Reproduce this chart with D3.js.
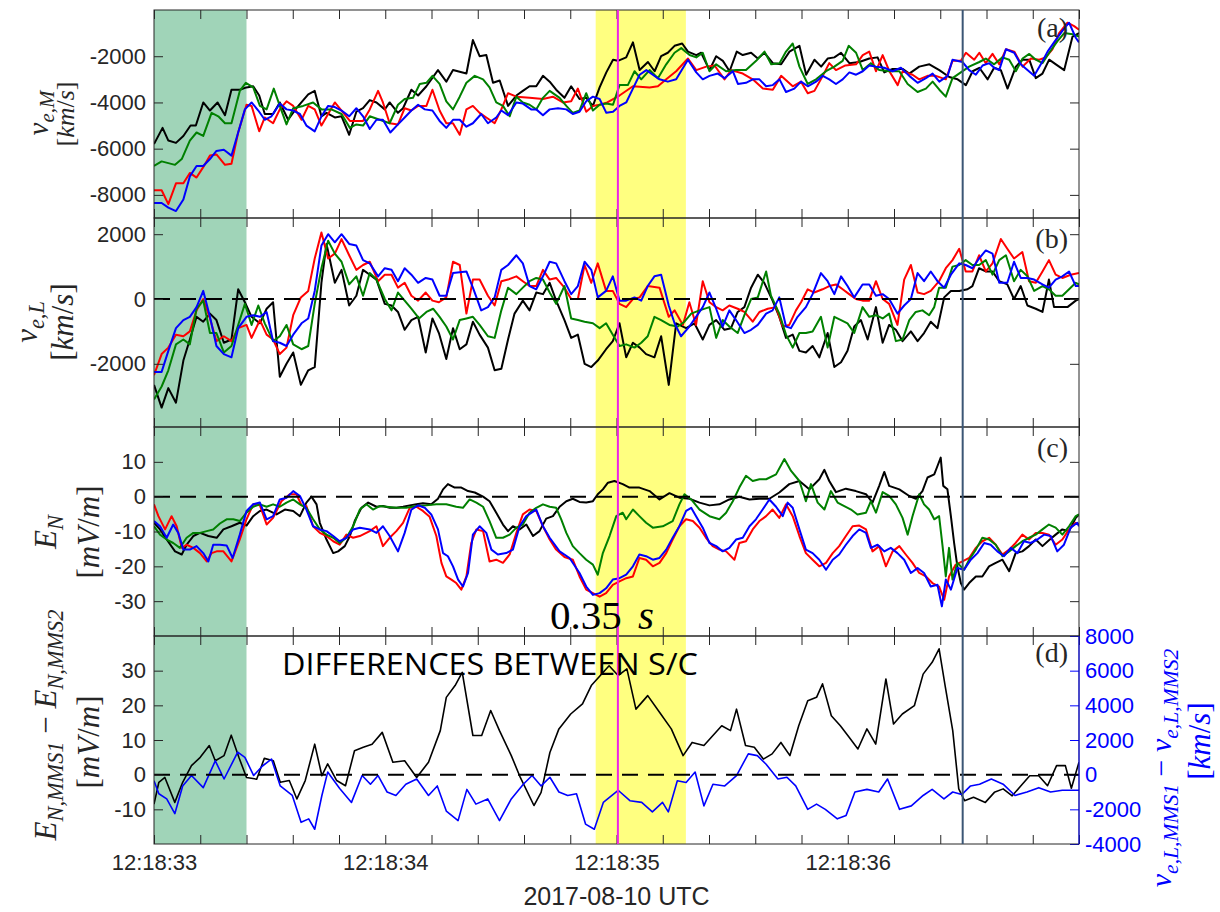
<!DOCTYPE html>
<html>
<head>
<meta charset="utf-8">
<script src="https://cdn.jsdelivr.net/npm/d3@7"></script>
<style>
body { margin: 0; background: #fff; }
svg { display: block; }
</style>
</head>
<body>
<svg id="chart" width="1220" height="912"></svg>
<script>
// time is in seconds after 12:18:33 UTC

var xTickLabels = ["12:18:33", "12:18:34", "12:18:35", "12:18:36"];
var greenSpan = [0, 0.4];
var yellowSpan = [1.91, 2.30];
var magentaTime = 2.006;
var markerTime = 3.497;

// panel (a) v_e,M [km/s]
var vM_mms1 = [[0,-5800],[0.037,-5100],[0.062,-5650],[0.095,-5750],[0.127,-5450],[0.158,-5000],[0.181,-5000],[0.213,-4000],[0.242,-4350],[0.275,-4000],[0.307,-4550],[0.335,-3450],[0.371,-3450],[0.40,-3350],[0.429,-3300],[0.455,-3700],[0.479,-4500],[0.515,-4500],[0.544,-4000],[0.58,-4750],[0.616,-4250],[0.667,-3650],[0.695,-3500],[0.724,-4600],[0.746,-4450],[0.782,-4650],[0.811,-4600],[0.844,-5400],[0.875,-4400],[0.904,-4250],[0.933,-3900],[0.962,-4000],[0.998,-4300],[1.019,-4000],[1.055,-4450],[1.077,-4250],[1.113,-3450],[1.142,-3700],[1.178,-3300],[1.228,-2600],[1.264,-3100],[1.293,-2600],[1.351,-2750],[1.379,-1300],[1.408,-2000],[1.437,-1950],[1.466,-3150],[1.495,-3050],[1.531,-4150],[1.567,-3700],[1.595,-3500],[1.624,-3300],[1.653,-3300],[1.682,-2850],[1.711,-3100],[1.739,-3450],[1.775,-3800],[1.804,-3300],[1.84,-3850],[1.869,-3800],[1.898,-4150],[1.927,-3350],[1.956,-2700],[1.985,-2150],[2.006,-2200],[2.042,-2050],[2.071,-1400],[2.10,-2600],[2.136,-2250],[2.165,-2650],[2.193,-2000],[2.222,-1850],[2.251,-1550],[2.284,-1450],[2.309,-1800],[2.345,-1950],[2.366,-1850],[2.402,-2600],[2.431,-2000],[2.46,-2200],[2.489,-2650],[2.52,-1800],[2.546,-1950],[2.582,-1850],[2.611,-2100],[2.64,-1850],[2.676,-2300],[2.712,-2350],[2.748,-1800],[2.791,-1550],[2.82,-2800],[2.856,-2150],[2.885,-2450],[2.913,-2100],[2.942,-2050],[2.971,-1850],[3.007,-2300],[3.05,-2250],[3.093,-2100],[3.129,-2050],[3.158,-2700],[3.194,-2550],[3.237,-2550],[3.266,-2750],[3.309,-2450],[3.353,-2350],[3.396,-2600],[3.439,-2900],[3.475,-3000],[3.511,-3250],[3.54,-2650],[3.569,-2500],[3.605,-3000],[3.633,-2500],[3.662,-2600],[3.691,-3400],[3.727,-2450],[3.756,-2150],[3.785,-2150],[3.813,-2950],[3.842,-2750],[3.871,-2150],[3.90,-2350],[3.936,-2600],[3.972,-1150],[4.0,-1000]];
var vM_mms2 = [[0,-7800],[0.033,-7800],[0.062,-8400],[0.095,-7500],[0.127,-7500],[0.155,-7050],[0.184,-7250],[0.213,-6800],[0.242,-6300],[0.27,-6250],[0.307,-6700],[0.335,-6650],[0.364,-5300],[0.40,-4100],[0.422,-4150],[0.455,-5250],[0.479,-4650],[0.515,-4900],[0.544,-4300],[0.573,-3950],[0.602,-4150],[0.638,-4750],[0.667,-4150],[0.695,-4300],[0.724,-5000],[0.753,-4500],[0.782,-4000],[0.811,-4350],[0.847,-4800],[0.904,-4800],[0.933,-4300],[0.969,-3500],[0.99,-4000],[1.019,-4900],[1.055,-4950],[1.084,-4250],[1.113,-4350],[1.142,-4150],[1.178,-4150],[1.204,-3450],[1.235,-4350],[1.264,-4900],[1.293,-4900],[1.322,-5400],[1.351,-4300],[1.379,-4150],[1.408,-4450],[1.437,-4650],[1.473,-4900],[1.502,-4300],[1.531,-3600],[1.567,-3750],[1.624,-3800],[1.682,-3850],[1.725,-3750],[1.768,-4000],[1.804,-3950],[1.833,-3400],[1.869,-4400],[1.898,-4150],[1.927,-4100],[1.96,-4000],[2.013,-3700],[2.071,-3300],[2.143,-3350],[2.179,-3300],[2.215,-3000],[2.258,-2650],[2.309,-2100],[2.345,-2600],[2.388,-2450],[2.424,-2400],[2.467,-3000],[2.496,-2600],[2.546,-2750],[2.589,-3000],[2.633,-3400],[2.676,-3450],[2.712,-2850],[2.762,-3300],[2.798,-3100],[2.827,-3600],[2.856,-3500],[2.892,-2850],[2.92,-2300],[2.949,-2600],[2.99,-2400],[3.036,-2350],[3.065,-1950],[3.093,-1800],[3.122,-2650],[3.151,-1950],[3.18,-2650],[3.216,-3250],[3.237,-2650],[3.28,-2800],[3.309,-3000],[3.345,-2850],[3.381,-2850],[3.424,-3000],[3.453,-2200],[3.489,-2200],[3.511,-1850],[3.547,-2150],[3.569,-1850],[3.597,-2300],[3.626,-1900],[3.655,-2350],[3.684,-1700],[3.72,-1800],[3.756,-2450],[3.792,-2100],[3.828,-2150],[3.856,-2050],[3.885,-1700],[3.914,-1000],[3.95,-550],[3.979,-700],[4.0,-850]];
var vM_mms3 = [[0,-6750],[0.033,-6550],[0.091,-6700],[0.12,-6450],[0.155,-5650],[0.184,-5300],[0.213,-5450],[0.249,-4450],[0.278,-4600],[0.307,-4900],[0.335,-4900],[0.371,-3500],[0.397,-3150],[0.429,-3350],[0.458,-4150],[0.487,-4300],[0.518,-3400],[0.544,-4150],[0.573,-4950],[0.602,-4250],[0.645,-4150],[0.688,-4000],[0.724,-4300],[0.767,-4300],[0.811,-4500],[0.847,-5100],[0.875,-4950],[0.904,-5000],[0.933,-4600],[0.976,-4750],[1.019,-4900],[1.055,-4100],[1.084,-3850],[1.12,-3800],[1.149,-3200],[1.178,-3150],[1.204,-2850],[1.235,-3200],[1.264,-3950],[1.293,-4300],[1.322,-3750],[1.351,-3150],[1.387,-2850],[1.423,-3000],[1.451,-3350],[1.48,-4000],[1.509,-4150],[1.538,-4600],[1.567,-3750],[1.595,-4000],[1.624,-4100],[1.653,-4300],[1.682,-3800],[1.711,-3500],[1.754,-3800],[1.783,-4150],[1.811,-4450],[1.84,-4350],[1.869,-3600],[1.898,-4350],[1.927,-4100],[1.956,-4050],[1.985,-4100],[2.013,-3250],[2.049,-3250],[2.078,-2650],[2.107,-3000],[2.143,-2600],[2.179,-2950],[2.215,-2350],[2.251,-1850],[2.28,-1650],[2.316,-1950],[2.345,-2050],[2.373,-1850],[2.402,-2650],[2.431,-2350],[2.474,-2650],[2.517,-2600],[2.56,-2600],[2.604,-2200],[2.64,-1800],[2.669,-2350],[2.705,-2300],[2.733,-1800],[2.762,-1450],[2.791,-2450],[2.827,-3200],[2.863,-3000],[2.906,-2650],[2.942,-2450],[2.978,-2200],[3.004,-1550],[3.036,-1850],[3.065,-2600],[3.1,-2300],[3.136,-2600],[3.18,-2650],[3.223,-2650],[3.259,-3200],[3.302,-3550],[3.338,-3400],[3.367,-3100],[3.396,-3450],[3.424,-3750],[3.453,-2950],[3.489,-2700],[3.525,-2450],[3.569,-2250],[3.597,-2100],[3.633,-2350],[3.669,-2050],[3.698,-2150],[3.727,-2650],[3.756,-2100],[3.785,-1900],[3.813,-2150],[3.842,-2300],[3.871,-1850],[3.907,-1350],[3.936,-1000],[3.972,-1050],[4.0,-1150]];
var vM_mms4 = [[0,-8350],[0.033,-8350],[0.062,-8550],[0.095,-8700],[0.127,-8200],[0.155,-7200],[0.184,-6750],[0.213,-6750],[0.242,-6450],[0.27,-6100],[0.302,-6050],[0.335,-6300],[0.364,-5300],[0.393,-4300],[0.422,-4000],[0.451,-4350],[0.479,-4750],[0.508,-4600],[0.544,-4050],[0.573,-4300],[0.602,-4350],[0.631,-4500],[0.659,-5000],[0.695,-5250],[0.724,-4600],[0.753,-4150],[0.782,-4200],[0.811,-4350],[0.844,-4600],[0.875,-4250],[0.904,-4600],[0.933,-5150],[0.962,-4750],[0.99,-4750],[1.022,-5300],[1.055,-4950],[1.084,-4650],[1.113,-4350],[1.142,-4100],[1.171,-4300],[1.204,-4350],[1.235,-4800],[1.264,-5100],[1.293,-4750],[1.322,-4750],[1.351,-5050],[1.379,-4900],[1.415,-4500],[1.444,-4900],[1.48,-4650],[1.502,-4350],[1.531,-4550],[1.567,-4000],[1.595,-4050],[1.631,-4300],[1.653,-4300],[1.682,-4550],[1.711,-4300],[1.747,-4250],[1.783,-4300],[1.811,-4500],[1.84,-4400],[1.869,-3950],[1.898,-3750],[1.927,-3850],[1.956,-4450],[1.985,-4400],[2.013,-4150],[2.042,-4000],[2.071,-3400],[2.10,-2800],[2.129,-2600],[2.157,-2800],[2.186,-3000],[2.222,-3100],[2.258,-3000],[2.309,-2150],[2.345,-2700],[2.373,-3000],[2.402,-2850],[2.438,-2750],[2.467,-2950],[2.503,-2650],[2.525,-3200],[2.56,-3150],[2.589,-3000],[2.618,-3000],[2.647,-3300],[2.676,-3250],[2.705,-3000],[2.733,-3550],[2.769,-3400],[2.798,-3100],[2.827,-3300],[2.863,-3100],[2.892,-2850],[2.92,-3000],[2.949,-3200],[2.978,-3000],[3.007,-2700],[3.036,-2800],[3.065,-2650],[3.093,-2400],[3.122,-2450],[3.158,-2500],[3.194,-2650],[3.23,-2500],[3.266,-2850],[3.302,-3150],[3.338,-2950],[3.367,-2750],[3.396,-3100],[3.432,-2850],[3.453,-2150],[3.496,-2250],[3.525,-2600],[3.554,-2800],[3.583,-2400],[3.612,-2300],[3.633,-2500],[3.655,-2600],[3.684,-1700],[3.72,-1850],[3.748,-2350],[3.777,-2600],[3.806,-2850],[3.835,-2350],[3.864,-1800],[3.892,-1400],[3.928,-900],[3.957,-550],[3.986,-1200],[4.0,-1400]];

// panel (b) v_e,L [km/s]
var vL_mms1 = [[0,-2650],[0.033,-3350],[0.062,-2750],[0.095,-3200],[0.127,-1900],[0.155,-1250],[0.184,-550],[0.213,-700],[0.242,-450],[0.27,-650],[0.302,-1350],[0.335,-1250],[0.364,300],[0.393,-100],[0.422,-550],[0.458,-750],[0.487,-300],[0.515,-100],[0.544,-2400],[0.573,-2000],[0.602,-1650],[0.635,-2650],[0.667,-2200],[0.695,-2100],[0.724,500],[0.746,1700],[0.782,500],[0.811,900],[0.844,-200],[0.875,100],[0.904,900],[0.933,750],[0.962,600],[0.998,-150],[1.027,-200],[1.055,-400],[1.084,-950],[1.113,-650],[1.142,-550],[1.175,-1650],[1.204,-600],[1.232,-1050],[1.264,-1850],[1.293,-900],[1.322,-1550],[1.351,-1400],[1.379,-700],[1.408,-1100],[1.444,-1500],[1.473,-2200],[1.502,-2150],[1.531,-1250],[1.559,-450],[1.595,-50],[1.624,-350],[1.653,200],[1.682,150],[1.711,500],[1.739,-50],[1.775,-650],[1.804,-1200],[1.833,-1100],[1.862,-2000],[1.891,-2100],[1.919,-1900],[1.955,-1550],[1.984,-1300],[2.013,-750],[2.042,-1800],[2.071,-1350],[2.1,-1500],[2.128,-1700],[2.164,-1800],[2.193,-1150],[2.226,-2650],[2.258,-750],[2.301,-900],[2.337,-750],[2.373,-1250],[2.402,-800],[2.431,-650],[2.467,-950],[2.495,-900],[2.524,-400],[2.553,-250],[2.582,350],[2.611,750],[2.639,500],[2.675,-50],[2.704,-550],[2.733,-1200],[2.762,-1100],[2.791,-1600],[2.819,-1650],[2.848,-1450],[2.877,-1800],[2.913,-1050],[2.942,-2100],[2.971,-1950],[2.999,-1600],[3.028,-850],[3.057,-650],[3.086,-1250],[3.122,-250],[3.151,-1350],[3.179,-800],[3.208,-950],[3.237,-1300],[3.273,-1000],[3.302,-1300],[3.33,-1050],[3.359,-700],[3.388,-900],[3.417,50],[3.446,250],[3.482,250],[3.518,300],[3.539,400],[3.568,950],[3.597,850],[3.626,850],[3.655,550],[3.69,450],[3.719,0],[3.748,400],[3.777,-200],[3.813,-300],[3.842,-400],[3.87,600],[3.892,-250],[3.921,-250],[3.95,-250],[3.986,-50],[4.0,0]];
var vL_mms2 = [[0,-2350],[0.033,-1700],[0.062,-1500],[0.095,-1100],[0.127,-1150],[0.155,-1000],[0.184,-350],[0.213,0],[0.242,-600],[0.27,-1300],[0.302,-1150],[0.335,-1300],[0.364,-900],[0.40,-800],[0.422,-1200],[0.458,-650],[0.487,-1100],[0.515,-1250],[0.544,-1700],[0.573,-1500],[0.602,-500],[0.635,50],[0.667,250],[0.695,1250],[0.724,2050],[0.753,1250],[0.782,1400],[0.811,1850],[0.844,1350],[0.875,900],[0.904,1050],[0.933,1150],[0.969,550],[0.998,750],[1.027,750],[1.055,350],[1.084,500],[1.113,100],[1.142,-50],[1.175,200],[1.204,-50],[1.232,-100],[1.264,50],[1.293,1150],[1.322,1050],[1.351,-450],[1.379,600],[1.408,600],[1.444,100],[1.473,-200],[1.502,550],[1.531,600],[1.567,700],[1.595,550],[1.624,400],[1.653,400],[1.682,900],[1.711,600],[1.739,650],[1.775,350],[1.804,0],[1.833,0],[1.862,1050],[1.891,500],[1.919,1100],[1.955,250],[1.984,250],[2.013,-150],[2.042,-250],[2.071,0],[2.1,50],[2.135,400],[2.186,350],[2.226,-550],[2.251,-350],[2.287,-800],[2.315,-100],[2.344,-800],[2.373,550],[2.402,-100],[2.431,-250],[2.459,-350],[2.488,-200],[2.524,-300],[2.553,-400],[2.589,-700],[2.618,-400],[2.654,-300],[2.69,-250],[2.719,-850],[2.747,-800],[2.776,-350],[2.798,-100],[2.827,300],[2.855,200],[2.891,300],[2.92,400],[2.949,450],[2.978,300],[3.006,150],[3.035,0],[3.064,-50],[3.093,-50],[3.122,550],[3.151,0],[3.179,-150],[3.215,-800],[3.244,600],[3.273,1050],[3.302,200],[3.33,150],[3.359,250],[3.395,550],[3.424,950],[3.453,1200],[3.482,1550],[3.51,850],[3.539,850],[3.568,1350],[3.597,850],[3.626,1100],[3.662,1850],[3.69,1550],[3.719,1250],[3.755,1450],[3.784,550],[3.813,500],[3.842,850],[3.87,1200],[3.899,750],[3.928,650],[3.964,750],[4.0,800]];
var vL_mms3 = [[0,-3100],[0.033,-2700],[0.062,-2200],[0.095,-1400],[0.127,-1250],[0.155,-1400],[0.184,-300],[0.213,-50],[0.242,-1050],[0.27,-1050],[0.302,-1650],[0.335,-1450],[0.364,-800],[0.393,-150],[0.422,-800],[0.451,-200],[0.479,-750],[0.515,-1300],[0.544,-1150],[0.573,-800],[0.602,-1400],[0.638,-1550],[0.667,-1450],[0.695,-150],[0.724,950],[0.753,1800],[0.782,1400],[0.811,1150],[0.844,450],[0.875,700],[0.904,100],[0.933,800],[0.962,600],[0.998,0],[1.027,-350],[1.055,200],[1.084,-50],[1.113,-300],[1.146,-600],[1.178,-400],[1.207,-300],[1.235,-550],[1.264,-850],[1.293,-1250],[1.322,-650],[1.351,-600],[1.379,-550],[1.408,-800],[1.444,-1150],[1.473,-1200],[1.502,-350],[1.531,350],[1.567,150],[1.595,350],[1.624,550],[1.653,650],[1.682,600],[1.711,200],[1.739,-150],[1.775,400],[1.804,-600],[1.833,-650],[1.862,-700],[1.898,-750],[1.927,-900],[1.955,-750],[1.984,-1100],[2.013,-1450],[2.042,-1400],[2.078,-1500],[2.107,-1350],[2.135,-1150],[2.164,-550],[2.193,-650],[2.229,-800],[2.265,-850],[2.294,-700],[2.323,-450],[2.359,-350],[2.402,-250],[2.431,-1200],[2.459,-650],[2.488,-850],[2.524,-1050],[2.553,-500],[2.582,0],[2.611,50],[2.647,850],[2.668,100],[2.704,-450],[2.733,-1100],[2.762,-1500],[2.791,-1050],[2.819,-1050],[2.848,-1000],[2.884,-550],[2.913,-1500],[2.942,-550],[2.971,-650],[2.999,-750],[3.028,-1050],[3.064,-250],[3.093,-550],[3.122,-500],[3.151,-600],[3.179,-450],[3.208,-1300],[3.237,-1250],[3.266,-650],[3.294,-400],[3.323,-350],[3.352,-500],[3.374,-250],[3.395,350],[3.424,350],[3.453,1000],[3.482,1050],[3.51,1200],[3.539,1050],[3.568,1050],[3.597,1200],[3.626,750],[3.655,1200],[3.684,1350],[3.719,550],[3.748,900],[3.777,700],[3.806,250],[3.842,400],[3.87,300],[3.899,100],[3.928,100],[3.957,300],[3.986,500],[4.0,450]];
var vL_mms4 = [[0,-2250],[0.033,-2250],[0.062,-1600],[0.095,-900],[0.127,-650],[0.155,-550],[0.184,-250],[0.213,250],[0.242,-550],[0.27,-1450],[0.302,-1700],[0.335,-1800],[0.364,-900],[0.40,-550],[0.429,-500],[0.458,-550],[0.487,-400],[0.515,-1300],[0.544,-1350],[0.573,-1450],[0.602,-1100],[0.638,-750],[0.667,-600],[0.695,250],[0.724,1650],[0.753,2000],[0.782,1750],[0.811,2000],[0.844,1700],[0.875,1650],[0.904,1200],[0.933,1100],[0.969,700],[0.998,950],[1.027,900],[1.055,550],[1.084,950],[1.113,750],[1.142,500],[1.175,650],[1.204,600],[1.235,100],[1.264,100],[1.293,800],[1.351,850],[1.379,350],[1.415,-350],[1.444,-250],[1.473,50],[1.502,900],[1.531,1050],[1.567,1350],[1.595,1100],[1.624,400],[1.653,300],[1.682,700],[1.711,1150],[1.739,1100],[1.775,550],[1.804,150],[1.833,400],[1.862,1150],[1.891,900],[1.919,50],[1.955,250],[1.984,700],[2.013,-50],[2.042,-50],[2.078,50],[2.107,-50],[2.135,400],[2.164,700],[2.193,750],[2.226,-200],[2.251,-750],[2.279,-1150],[2.315,-850],[2.344,-550],[2.373,-250],[2.402,200],[2.431,-300],[2.459,-850],[2.488,-350],[2.517,-650],[2.553,-1050],[2.582,-950],[2.611,-800],[2.647,-450],[2.675,-350],[2.704,50],[2.733,-850],[2.754,-900],[2.783,-550],[2.819,-250],[2.848,150],[2.884,800],[2.913,550],[2.942,150],[2.971,700],[2.999,400],[3.028,50],[3.064,450],[3.093,450],[3.122,100],[3.151,150],[3.179,0],[3.215,-450],[3.244,-200],[3.273,0],[3.302,800],[3.33,550],[3.359,850],[3.388,550],[3.417,350],[3.446,750],[3.482,1100],[3.51,1050],[3.539,950],[3.568,1250],[3.597,1500],[3.626,1400],[3.655,500],[3.69,500],[3.719,1150],[3.748,650],[3.777,650],[3.806,600],[3.842,450],[3.87,350],[3.899,600],[3.928,700],[3.957,850],[3.986,400],[4.0,400]];

// panel (c) E_N [mV/m]
var EN_mms1 = [[0,-7.5],[0.026,-9.4],[0.055,-12.3],[0.091,-15.7],[0.12,-16.6],[0.141,-13.8],[0.17,-11.3],[0.199,-10.4],[0.235,-11.3],[0.271,-11.8],[0.30,-9.4],[0.335,-8.5],[0.371,-7.5],[0.40,-8.3],[0.429,-5.6],[0.458,-4.1],[0.487,-3.7],[0.53,-5.1],[0.566,-3.7],[0.602,-4.1],[0.631,-5.6],[0.659,-1.7],[0.681,0],[0.703,-2.2],[0.717,-7.5],[0.746,-12.3],[0.775,-16.2],[0.796,-15.7],[0.825,-14.2],[0.847,-11.3],[0.868,-7.0],[0.897,-3.2],[0.926,-1.7],[0.962,-2.9],[0.99,-2.7],[1.019,-3.2],[1.048,-3.2],[1.077,-2.9],[1.106,-2.5],[1.135,-2.2],[1.163,-1.9],[1.199,-2.2],[1.228,-0.6],[1.25,2.1],[1.271,3.6],[1.3,2.6],[1.329,2.6],[1.358,1.6],[1.387,1.2],[1.423,0],[1.451,-1.3],[1.48,-4.6],[1.509,-8.0],[1.531,-9.9],[1.552,-8.5],[1.581,-9.4],[1.61,-8.0],[1.639,-11.3],[1.667,-9.9],[1.696,-6.3],[1.725,-5.6],[1.754,-2.9],[1.783,-1.3],[1.811,-0.6],[1.84,-1.5],[1.869,-1.7],[1.898,-1.3],[1.919,0.7],[1.941,2.1],[1.963,4.0],[1.991,4.5],[2.027,3.6],[2.056,2.6],[2.099,2.6],[2.143,1.6],[2.186,-0.8],[2.229,1.0],[2.272,-0.3],[2.315,-0.6],[2.359,-1.7],[2.402,-2.5],[2.445,-2.2],[2.488,-0.8],[2.531,0],[2.575,-0.8],[2.618,-0.6],[2.661,-0.6],[2.704,1.2],[2.747,3.6],[2.791,4.5],[2.834,2.1],[2.877,5.0],[2.899,7.7],[2.92,4.5],[2.949,1.3],[2.992,2.3],[3.035,1.6],[3.079,0.7],[3.107,-1.7],[3.136,3.1],[3.158,7.1],[3.179,3.1],[3.223,2.1],[3.266,0.2],[3.295,-0.6],[3.323,1.6],[3.345,5.5],[3.374,6.4],[3.388,8.8],[3.402,11.2],[3.413,3.1],[3.431,2.1],[3.446,-5.6],[3.46,-13.3],[3.474,-20],[3.489,-24.8],[3.503,-26.7],[3.525,-24.8],[3.554,-22.9],[3.582,-22.9],[3.611,-20],[3.64,-19],[3.669,-18.1],[3.698,-21.4],[3.726,-16.2],[3.755,-15.7],[3.784,-14.2],[3.813,-12.3],[3.842,-14.2],[3.87,-12.5],[3.899,-10.9],[3.928,-9.4],[3.957,-9.9],[3.986,-6.1],[4.0,-5.1]];
var EN_mms2 = [[0,-2.2],[0.019,-5.6],[0.048,-9.4],[0.076,-5.6],[0.098,-8.5],[0.12,-14.7],[0.141,-13.8],[0.17,-14.7],[0.199,-16.2],[0.228,-18.6],[0.249,-16.2],[0.271,-15.7],[0.30,-15.7],[0.335,-18.6],[0.371,-12.3],[0.40,-6.5],[0.429,-2.2],[0.458,-2.5],[0.487,-8.0],[0.515,-6.1],[0.551,-1.3],[0.587,0.7],[0.616,0.7],[0.638,-2.5],[0.659,-2.7],[0.688,-8.5],[0.717,-10.4],[0.746,-11.3],[0.775,-12.8],[0.803,-13.8],[0.832,-10.9],[0.861,-11.8],[0.89,-11.3],[0.933,-9.9],[0.962,-8.5],[0.99,-14.2],[1.019,-11.8],[1.048,-9.9],[1.077,-7.5],[1.106,-3.2],[1.135,-2.9],[1.163,-4.1],[1.192,-5.8],[1.221,-11.3],[1.243,-19],[1.264,-22.9],[1.286,-23.8],[1.307,-24.8],[1.329,-26.7],[1.351,-22.9],[1.372,-13.3],[1.394,-9.4],[1.423,-9.9],[1.451,-18.6],[1.48,-18.1],[1.509,-19],[1.538,-16.6],[1.567,-10.4],[1.595,-5.1],[1.624,-3.7],[1.653,-4.1],[1.682,-8.5],[1.711,-12.3],[1.739,-15.2],[1.775,-17.3],[1.811,-18.1],[1.84,-22.9],[1.869,-26.7],[1.898,-27.7],[1.927,-28.7],[1.955,-27.7],[1.984,-25.3],[2.013,-24.3],[2.042,-23.4],[2.071,-22.9],[2.099,-17.6],[2.128,-18.1],[2.157,-20],[2.186,-19],[2.215,-16.2],[2.243,-12.3],[2.272,-8.5],[2.301,-6.5],[2.33,-7.0],[2.359,-8.9],[2.387,-11.8],[2.416,-14.2],[2.445,-15.2],[2.474,-15.7],[2.51,-18.1],[2.531,-13.3],[2.56,-12.8],[2.589,-9.4],[2.618,-7.0],[2.647,-5.6],[2.675,-3.7],[2.704,-6.1],[2.733,-2.2],[2.762,-5.6],[2.791,-11.3],[2.819,-16.2],[2.848,-18.1],[2.877,-20],[2.906,-19],[2.935,-16.2],[2.963,-14.2],[2.992,-11.3],[3.021,-8.5],[3.05,-8.3],[3.079,-9.4],[3.107,-15.7],[3.136,-14.2],[3.165,-20],[3.194,-15.7],[3.223,-14.2],[3.251,-16.6],[3.28,-19],[3.309,-21.9],[3.338,-22.9],[3.366,-24.8],[3.395,-25.8],[3.417,-29.6],[3.438,-22.9],[3.467,-19.5],[3.496,-18.6],[3.525,-17.6],[3.554,-14.7],[3.582,-12.8],[3.611,-11.8],[3.64,-13.8],[3.669,-16.6],[3.698,-15.2],[3.726,-13.3],[3.755,-10.9],[3.784,-12.3],[3.813,-10.4],[3.842,-10.4],[3.87,-10.9],[3.899,-13.8],[3.928,-12.3],[3.957,-9.4],[3.986,-7.5],[4.0,-8.0]];
var EN_mms3 = [[0,-8.5],[0.026,-10.9],[0.055,-12.3],[0.083,-13.3],[0.112,-14.7],[0.141,-11.8],[0.17,-10.4],[0.199,-10.4],[0.228,-9.9],[0.256,-9.4],[0.285,-7.7],[0.314,-6.5],[0.343,-6.5],[0.371,-7.0],[0.40,-4.6],[0.429,-2.9],[0.458,-2.2],[0.487,-2.9],[0.515,-2.2],[0.544,-2.9],[0.573,-1.7],[0.602,-0.8],[0.631,-2.2],[0.659,-3.2],[0.688,-6.5],[0.717,-9.4],[0.746,-10.9],[0.775,-11.8],[0.803,-13.3],[0.832,-11.8],[0.861,-8.5],[0.89,-3.7],[0.919,-2.2],[0.947,-3.7],[0.976,-2.7],[1.005,-2.9],[1.048,-3.2],[1.091,-3.2],[1.135,-2.7],[1.178,-2.5],[1.221,-2.2],[1.264,-2.2],[1.307,-2.9],[1.336,-3.2],[1.365,-0.8],[1.394,-1.7],[1.423,-2.9],[1.451,-7.0],[1.48,-11.8],[1.509,-11.8],[1.538,-10.9],[1.567,-8.9],[1.595,-8.0],[1.624,-4.6],[1.653,-3.2],[1.682,-2.2],[1.711,-2.9],[1.739,-3.2],[1.761,-6.5],[1.783,-10.4],[1.811,-14.2],[1.84,-16.2],[1.869,-18.1],[1.898,-19.5],[1.919,-22.4],[1.941,-16.2],[1.97,-11.3],[1.999,-5.6],[2.027,-4.6],[2.042,-6.5],[2.071,-3.7],[2.099,-5.6],[2.128,-7.5],[2.157,-8.9],[2.2,-8.5],[2.243,-7.0],[2.272,-2.2],[2.294,0.7],[2.323,-0.8],[2.359,-3.7],[2.402,-5.6],[2.445,-6.5],[2.474,-4.6],[2.503,-1.3],[2.531,2.6],[2.56,6.0],[2.589,4.5],[2.618,5.0],[2.647,5.0],[2.69,6.4],[2.726,10.8],[2.755,7.4],[2.791,4.5],[2.819,-1.3],[2.841,3.6],[2.87,-1.7],[2.899,-3.7],[2.927,1.6],[2.956,-1.7],[2.985,-2.7],[3.014,-3.7],[3.042,-5.1],[3.079,-4.6],[3.1,-1.3],[3.122,-4.6],[3.151,1.3],[3.179,0.2],[3.208,-2.2],[3.237,-6.1],[3.259,-10.9],[3.28,-5.6],[3.309,0.7],[3.33,-2.2],[3.352,-3.7],[3.374,-6.5],[3.395,-5.6],[3.41,-14.2],[3.424,-22.9],[3.438,-14.7],[3.453,-23.8],[3.474,-19],[3.503,-21],[3.525,-18.1],[3.554,-15.2],[3.582,-11.8],[3.611,-12.3],[3.64,-13.8],[3.669,-17.1],[3.698,-15.7],[3.726,-14.2],[3.755,-12.8],[3.784,-11.8],[3.813,-10.9],[3.842,-9.4],[3.87,-8.0],[3.899,-8.9],[3.928,-10.9],[3.957,-8.5],[3.986,-5.6],[4.0,-5.1]];
var EN_mms4 = [[0,-7.0],[0.026,-8.5],[0.055,-11.8],[0.083,-8.0],[0.105,-10.4],[0.127,-15.2],[0.155,-15.2],[0.184,-14.2],[0.213,-16.2],[0.235,-18.6],[0.256,-13.8],[0.285,-13.8],[0.314,-14.0],[0.34,-17.6],[0.371,-10.9],[0.40,-4.1],[0.429,-2.2],[0.458,-1.7],[0.487,-6.5],[0.515,-5.6],[0.544,-0.8],[0.573,-0.3],[0.602,1.6],[0.631,0.2],[0.659,-3.7],[0.688,-8.5],[0.717,-9.4],[0.746,-9.9],[0.775,-11.3],[0.803,-12.8],[0.832,-11.8],[0.861,-9.4],[0.89,-8.9],[0.933,-9.4],[0.962,-10.4],[0.99,-8.5],[1.019,-11.3],[1.055,-15.7],[1.084,-10.4],[1.113,-3.7],[1.142,-2.5],[1.171,-3.2],[1.199,-5.1],[1.228,-9.4],[1.25,-16.2],[1.271,-17.1],[1.293,-20],[1.315,-23.8],[1.336,-25.8],[1.358,-21.9],[1.379,-10.9],[1.408,-8.5],[1.437,-10.4],[1.459,-15.2],[1.487,-16.6],[1.523,-16.2],[1.552,-15.2],[1.581,-8.5],[1.61,-5.6],[1.653,-3.7],[1.682,-8.5],[1.711,-11.8],[1.754,-15.7],[1.797,-17.6],[1.84,-21.9],[1.869,-25.8],[1.898,-28.2],[1.927,-27.7],[1.955,-26.3],[1.984,-23.8],[2.013,-23.4],[2.042,-22.4],[2.071,-20],[2.099,-16.6],[2.128,-17.1],[2.157,-18.1],[2.186,-17.6],[2.215,-15.2],[2.243,-11.8],[2.272,-8.5],[2.301,-4.1],[2.323,-3.2],[2.344,-5.6],[2.373,-8.9],[2.402,-13.3],[2.431,-14.2],[2.459,-15.7],[2.488,-14.7],[2.517,-12.3],[2.546,-11.8],[2.575,-8.5],[2.603,-6.5],[2.632,-3.7],[2.661,-0.8],[2.69,-2.9],[2.719,-5.6],[2.74,-1.7],[2.762,-3.2],[2.791,-9.4],[2.819,-15.2],[2.848,-16.2],[2.877,-18.1],[2.906,-21],[2.935,-18.1],[2.963,-16.6],[2.992,-13.8],[3.021,-11.3],[3.05,-9.4],[3.079,-10.4],[3.1,-14.7],[3.129,-13.8],[3.158,-15.7],[3.186,-14.7],[3.215,-16.2],[3.244,-18.1],[3.273,-21.9],[3.302,-20.5],[3.33,-21.9],[3.359,-25.8],[3.388,-25.3],[3.407,-31.5],[3.424,-23.8],[3.446,-26.7],[3.474,-20.5],[3.503,-21],[3.532,-18.1],[3.561,-16.2],[3.59,-13.3],[3.618,-13.8],[3.647,-15.7],[3.676,-17.1],[3.705,-14.7],[3.734,-16.2],[3.762,-12.8],[3.791,-13.3],[3.82,-12.3],[3.849,-10.9],[3.878,-11.3],[3.906,-15.7],[3.935,-13.8],[3.964,-8.9],[3.993,-7.5],[4.0,-8.5]];

// panel (d) differences MMS1 - MMS2
var dEN_12 = [[0,-8.5],[0.021,-2.2],[0.047,-0.8],[0.09,-8.0],[0.124,-2.2],[0.162,2.6],[0.2,5.0],[0.239,8.4],[0.265,4.0],[0.303,5.5],[0.334,11.4],[0.367,5.0],[0.4,-0.8],[0.444,-1.3],[0.477,4.7],[0.516,4.0],[0.546,-2.2],[0.585,-1.7],[0.618,-7.0],[0.654,-1.7],[0.695,8.8],[0.726,-0.3],[0.751,3.1],[0.79,-1.7],[0.828,-3.2],[0.867,6.9],[0.905,7.9],[0.943,8.8],[0.987,12.2],[1.033,3.6],[1.084,4.0],[1.136,-0.8],[1.187,3.6],[1.238,12.7],[1.264,22.3],[1.302,25.7],[1.333,29.5],[1.379,11.3],[1.417,11.3],[1.456,18.5],[1.494,12.7],[1.545,5.5],[1.584,-0.8],[1.643,-8.9],[1.674,-5.1],[1.712,6.4],[1.751,13.2],[1.802,17.5],[1.853,20.4],[1.891,25.7],[1.93,28.6],[1.968,31.4],[2.007,28.6],[2.045,30.5],[2.084,18.9],[2.135,22.8],[2.186,18],[2.237,13.2],[2.288,5.5],[2.327,9.3],[2.378,8.4],[2.417,11.3],[2.455,14.1],[2.493,12.7],[2.519,18.9],[2.558,8.4],[2.596,7.9],[2.635,4.5],[2.673,6.0],[2.711,9.3],[2.75,5.5],[2.788,14.1],[2.827,21.3],[2.865,22.3],[2.891,26.2],[2.929,17],[2.968,14.1],[3.006,10.8],[3.044,7.4],[3.083,13.2],[3.121,8.8],[3.165,27.6],[3.198,14.6],[3.236,17.5],[3.288,19.9],[3.326,29],[3.365,32.4],[3.395,36.3],[3.421,25.7],[3.454,12.7],[3.48,-4.1],[3.505,-7.5],[3.544,-6.5],[3.595,-8.0],[3.634,-5.1],[3.672,-4.1],[3.711,-6.1],[3.749,-3.2],[3.787,-0.3],[3.826,-0.3],[3.864,-3.2],[3.903,2.6],[3.941,2.6],[3.967,-3.9],[4.0,3.6]];
var dvL_12 = [[0,-350],[0.021,-1100],[0.055,-1400],[0.09,-2250],[0.124,-650],[0.162,-50],[0.213,-750],[0.265,800],[0.303,-250],[0.362,1300],[0.393,1000],[0.431,-50],[0.469,500],[0.508,900],[0.546,-650],[0.598,-1200],[0.636,-2750],[0.669,-2550],[0.695,-3150],[0.726,-1200],[0.751,150],[0.803,-800],[0.854,-1600],[0.9,-50],[0.936,-550],[0.969,-50],[1.008,-1000],[1.046,-1200],[1.089,-550],[1.136,-250],[1.187,-1200],[1.225,-650],[1.264,-2100],[1.315,-2650],[1.353,-850],[1.392,-1700],[1.443,-1400],[1.494,-2650],[1.545,-1400],[1.597,-550],[1.635,-50],[1.674,-650],[1.712,-150],[1.751,-1000],[1.789,-1200],[1.827,-1100],[1.866,-2850],[1.904,-3150],[1.943,-1600],[2.007,-900],[2.058,-1500],[2.109,-1600],[2.155,-2150],[2.199,-1600],[2.224,-2150],[2.263,-350],[2.301,-450],[2.34,150],[2.378,-1800],[2.417,-550],[2.468,-650],[2.519,-50],[2.57,1200],[2.609,1100],[2.647,600],[2.698,-250],[2.737,-150],[2.775,-650],[2.827,-2000],[2.865,-1700],[2.903,-2000],[2.955,-2550],[2.993,-2350],[3.031,-1000],[3.083,-850],[3.134,-1000],[3.172,-250],[3.224,-2000],[3.275,-1800],[3.326,-1200],[3.365,-850],[3.416,-1400],[3.454,-1000],[3.493,-1150],[3.531,-650],[3.57,-550],[3.621,-250],[3.672,-550],[3.723,-1200],[3.775,-1000],[3.826,-750],[3.877,-1000],[3.928,-900],[4.0,-900]];

var yTicksA = [-8000, -6000, -4000, -2000];
var yTicksB = [-2000, 0, 2000];
var yTicksC = [-30, -20, -10, 0, 10];
var yTicksD = [-10, 0, 10, 20, 30];
var yTicksDRight = [-4000, -2000, 0, 2000, 4000, 6000, 8000];

var svg = d3.select("#chart");
var left = 154, right = 1079;
var tops = [10, 218, 427, 636], bottoms = [218, 427, 636, 844];
var ink = "#262626";
var sansFont = "'Liberation Sans', Arial, Helvetica, sans-serif";
var serifFont = "'Liberation Serif', 'Times New Roman', serif";
var tickLen = 9;
var tickFont = 22;
var plain = function(d) { return String(d); };   // hyphen minus, no thousands comma

var x = d3.scaleLinear().domain([0, 4]).range([left, right]);

var panels = [
    {domain: [-9000, 0], ticks: yTicksA, zero: false, tag: "(a)",
     series: [[vM_mms1, "#000000"], [vM_mms2, "#ff0000"], [vM_mms3, "#008000"], [vM_mms4, "#0000ff"]]},
    {domain: [-3950, 2500], ticks: yTicksB, zero: true, tag: "(b)",
     series: [[vL_mms1, "#000000"], [vL_mms2, "#ff0000"], [vL_mms3, "#008000"], [vL_mms4, "#0000ff"]]},
    {domain: [-40, 20], ticks: yTicksC, zero: true, tag: "(c)",
     series: [[EN_mms1, "#000000"], [EN_mms2, "#ff0000"], [EN_mms3, "#008000"], [EN_mms4, "#0000ff"]]},
    {domain: [-20, 40], ticks: yTicksD, zero: true, tag: "(d)",
     series: [[dEN_12, "#000000"]]}
];

// shaded intervals across all panels
svg.append("rect")
    .attr("x", x(greenSpan[0])).attr("y", tops[0])
    .attr("width", x(greenSpan[1]) - x(greenSpan[0])).attr("height", bottoms[3] - tops[0])
    .attr("fill", "#a0d4b8");
svg.append("rect")
    .attr("x", x(yellowSpan[0])).attr("y", tops[0])
    .attr("width", x(yellowSpan[1]) - x(yellowSpan[0])).attr("height", bottoms[3] - tops[0])
    .attr("fill", "#ffff80");

var defs = svg.append("defs");

panels.forEach(function(p, i) {
    var y = d3.scaleLinear().domain(p.domain).range([bottoms[i], tops[i]]);
    defs.append("clipPath").attr("id", "clip" + i)
        .append("rect").attr("x", left).attr("y", tops[i])
        .attr("width", right - left).attr("height", bottoms[i] - tops[i]);

    var g = svg.append("g");
    var lines = g.append("g").attr("clip-path", "url(#clip" + i + ")");

    var line = d3.line().x(function(d) { return x(d[0]); }).y(function(d) { return y(d[1]); });
    p.series.forEach(function(s) {
        lines.append("path").datum(s[0])
            .attr("d", line).attr("fill", "none")
            .attr("stroke", s[1]).attr("stroke-width", i == 3 ? 1.6 : 2)
            .attr("stroke-linejoin", "round");
    });

    if (i == 3) {
        var yr = d3.scaleLinear().domain([-4000, 8000]).range([bottoms[i], tops[i]]);
        var lineR = d3.line().x(function(d) { return x(d[0]); }).y(function(d) { return yr(d[1]); });
        lines.append("path").datum(dvL_12)
            .attr("d", lineR).attr("fill", "none")
            .attr("stroke", "#0000ff").attr("stroke-width", 1.6)
            .attr("stroke-linejoin", "round");

        var axR = g.append("g").attr("transform", "translate(" + right + ",0)")
            .call(d3.axisRight(yr).tickValues(yTicksDRight).tickSize(-tickLen).tickPadding(6).tickFormat(plain));
        axR.select(".domain").remove();
        axR.selectAll(".tick line").attr("stroke", "#0000ff");
        axR.selectAll(".tick text").attr("fill", "#0000ff")
            .attr("font-family", sansFont).attr("font-size", tickFont);
    }

    if (p.zero) {
        g.append("line")
            .attr("x1", left).attr("x2", right)
            .attr("y1", y(0)).attr("y2", y(0))
            .attr("stroke", "#000").attr("stroke-width", 2)
            .attr("stroke-dasharray", "16,10");
    }

    // y axis, ticks pointing inward
    var axL = g.append("g").attr("transform", "translate(" + left + ",0)")
        .call(d3.axisLeft(y).tickValues(p.ticks).tickSize(-tickLen).tickPadding(8).tickFormat(plain));
    axL.select(".domain").remove();
    axL.selectAll(".tick line").attr("stroke", ink);
    axL.selectAll(".tick text").attr("fill", ink)
        .attr("font-family", sansFont).attr("font-size", tickFont);

    if (i < 3) {
        var axRt = g.append("g").attr("transform", "translate(" + right + ",0)")
            .call(d3.axisRight(y).tickValues(p.ticks).tickSize(-tickLen).tickFormat(""));
        axRt.select(".domain").remove();
        axRt.selectAll(".tick line").attr("stroke", ink);
    }

    // time ticks on top and bottom of every panel
    var timeTicks = d3.range(0, 4.001, 0.2);
    var axTop = g.append("g").attr("transform", "translate(0," + tops[i] + ")")
        .call(d3.axisTop(x).tickValues(timeTicks).tickSize(-tickLen).tickFormat(""));
    axTop.select(".domain").remove();
    axTop.selectAll(".tick line").attr("stroke", ink);
    var axBot = g.append("g").attr("transform", "translate(0," + bottoms[i] + ")")
        .call(d3.axisBottom(x).tickValues(timeTicks).tickSize(-tickLen).tickPadding(10)
            .tickFormat(function(t) {
                var k = Math.round(t * 10);
                if (i == 3 && k % 10 == 0 && k / 10 < xTickLabels.length) return xTickLabels[k / 10];
                return "";
            }));
    axBot.select(".domain").remove();
    axBot.selectAll(".tick line").attr("stroke", ink);
    axBot.selectAll(".tick text").attr("fill", ink)
        .attr("font-family", sansFont).attr("font-size", tickFont);

    g.append("rect")
        .attr("x", left).attr("y", tops[i])
        .attr("width", right - left).attr("height", bottoms[i] - tops[i])
        .attr("fill", "none").attr("stroke", ink).attr("stroke-width", 1);
    if (i == 3) {
        g.append("line").attr("x1", right).attr("x2", right)
            .attr("y1", tops[i]).attr("y2", bottoms[i])
            .attr("stroke", "#0000ff").attr("stroke-width", 1);
    }
});

// vertical markers across all panels
svg.append("line")
    .attr("x1", x(magentaTime)).attr("x2", x(magentaTime))
    .attr("y1", tops[0]).attr("y2", bottoms[3])
    .attr("stroke", "#ee22e6").attr("stroke-width", 2);
svg.append("line")
    .attr("x1", x(markerTime)).attr("x2", x(markerTime))
    .attr("y1", tops[0]).attr("y2", bottoms[3])
    .attr("stroke", "#3b5675").attr("stroke-width", 2);

// panel tags
var tagBase = [37, 248, 457, 662];
panels.forEach(function(p, i) {
    svg.append("text").attr("x", 1068).attr("y", tagBase[i])
        .attr("text-anchor", "end").attr("font-family", serifFont)
        .attr("font-size", 28).attr("fill", ink).text(p.tag);
});

// rotated math-style labels
function mathLabel(px, py, size, parts, color) {
    var t = svg.append("text")
        .attr("transform", "translate(" + px + "," + py + ") rotate(-90)")
        .attr("text-anchor", "middle")
        .attr("font-family", serifFont)
        .attr("font-size", size).attr("fill", color);
    var inSub = false;
    parts.forEach(function(part) {
        var s = t.append("tspan").text(part[0]);
        var isSub = part[1].indexOf("s") >= 0;
        if (part[1].indexOf("i") >= 0) s.attr("font-style", "italic");
        if (isSub) s.attr("font-size", size * 0.72);
        if (isSub && !inSub) s.attr("dy", size * 0.22);
        if (!isSub && inSub) s.attr("dy", -size * 0.22);
        inSub = isSub;
    });
}
var kms = [["[", "r"], ["km", "i"], ["/", "r"], ["s", "i"], ["]", "r"]];
var mvm = [["[", "r"], ["mV", "i"], ["/", "r"], ["m", "i"], ["]", "r"]];

mathLabel(48, 113, 29, [["v", "i"], ["e,M", "si"]], ink);
mathLabel(74, 114, 26, kms, ink);
mathLabel(37, 322, 31, [["v", "i"], ["e,L", "si"]], ink);
mathLabel(73, 322, 31, kms, ink);
mathLabel(56, 532, 31, [["E", "i"], ["N", "si"]], ink);
mathLabel(99, 532, 31, mvm, ink);
mathLabel(56, 725, 31, [["E", "i"], ["N,MMS1", "si"], [" \u2212 ", "r"], ["E", "i"], ["N,MMS2", "si"]], ink);
mathLabel(99, 742, 31, mvm, ink);
mathLabel(1171, 768, 30, [["v", "i"], ["e,L,MMS1", "si"], [" \u2212 ", "r"], ["v", "i"], ["e,L,MMS2", "si"]], "#0000ff");
mathLabel(1210, 741, 31, kms, "#0000ff");

// time axis title
svg.append("text").attr("x", (left + right) / 2).attr("y", 905)
    .attr("text-anchor", "middle").attr("font-family", sansFont)
    .attr("font-size", 25).attr("fill", ink).text("2017-08-10 UTC");

// annotations
svg.append("text").attr("x", 550).attr("y", 629)
    .attr("font-family", serifFont).attr("font-size", 41).attr("fill", "#000").text("0.35");
svg.append("text").attr("x", 638).attr("y", 629)
    .attr("font-family", serifFont).attr("font-style", "italic")
    .attr("font-size", 41).attr("fill", "#000").text("s");
svg.append("text").attr("x", 282).attr("y", 675)
    .attr("font-family", "'Open Sans', 'Liberation Sans', sans-serif").attr("font-size", 31)
    .attr("textLength", 416).attr("lengthAdjust", "spacingAndGlyphs")
    .attr("fill", "#000").text("DIFFERENCES BETWEEN S/C");
</script>
</body>
</html>
